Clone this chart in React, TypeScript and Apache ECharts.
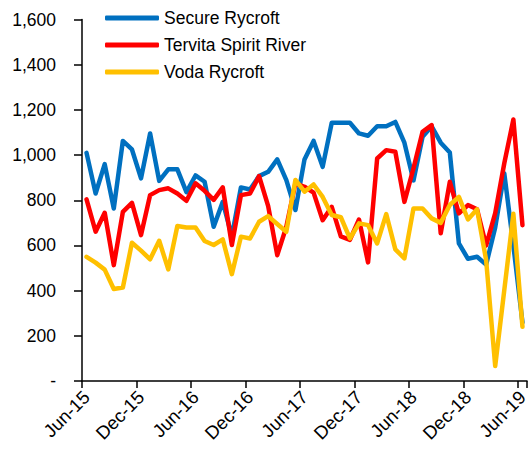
import React, { useEffect, useRef } from "react";
import * as echarts from "echarts";

const months = ["Jan", "Feb", "Mar", "Apr", "May", "Jun", "Jul", "Aug", "Sep", "Oct", "Nov", "Dec"];
const categories: string[] = [];
for (let y = 2015; y <= 2019; y++) {
  for (let m = 0; m < 12; m++) {
    if (y === 2015 && m < 5) continue;
    if (y === 2019 && m > 5) continue;
    categories.push(`${months[m]}-${String(y).slice(2)}`);
  }
}

const secureRycroft = [1010, 830, 960, 764, 1063, 1025, 897, 1096, 886, 937, 937, 836, 910, 882, 683, 793, 640, 857, 848, 907, 926, 981, 889, 757, 981, 1063, 948, 1143, 1143, 1143, 1096, 1086, 1128, 1128, 1147, 1055, 888, 1081, 1128, 1055, 1012, 609, 541, 550, 515, 680, 919, 600, 260];
const tervitaSpiritRiver = [804, 661, 745, 513, 749, 789, 646, 823, 845, 853, 830, 798, 875, 842, 802, 857, 602, 823, 830, 907, 774, 557, 683, 875, 860, 834, 712, 771, 640, 625, 715, 525, 985, 1022, 1015, 793, 941, 1103, 1133, 654, 882, 742, 779, 760, 600, 743, 964, 1158, 690];
const vodaRycroft = [550, 524, 493, 407, 414, 612, 577, 539, 621, 494, 686, 680, 680, 620, 602, 627, 473, 639, 631, 705, 730, 695, 661, 890, 838, 870, 815, 735, 725, 631, 698, 690, 609, 739, 583, 543, 764, 764, 720, 700, 779, 815, 715, 760, 535, 66, 403, 740, 240];

const seriesNames = ["Secure Rycroft", "Tervita Spirit River", "Voda Rycroft"];
const seriesColors = ["#0070C0", "#FF0000", "#FFC000"];
const seriesData = [secureRycroft, tervitaSpiritRiver, vodaRycroft];

const FONT = "'Liberation Sans', Arial, sans-serif";

export default function App() {
  const ref = useRef<HTMLDivElement>(null);
  useEffect(() => {
    if (!ref.current) return;
    const chart = echarts.init(ref.current, undefined, { renderer: "svg" });
    chart.setOption({
      animation: false,
      backgroundColor: "#ffffff",
      textStyle: { fontFamily: FONT },
      grid: { left: 82, right: 5, top: 19.6, bottom: 73, containLabel: false },
      legend: {
        orient: "vertical",
        left: 100,
        top: 4,
        itemWidth: 54,
        itemHeight: 5,
        itemGap: 9,
        icon: "roundRect",
        textStyle: { fontFamily: FONT, fontSize: 17.5, color: "#000" },
        data: seriesNames,
      },
      xAxis: {
        type: "category",
        data: categories,
        boundaryGap: true,
        axisLine: { lineStyle: { color: "#000", width: 1.5 } },
        axisTick: { show: true, interval: 5, length: 7, lineStyle: { color: "#000", width: 1.5 } },
        axisLabel: {
          interval: 5,
          rotate: 45,
          margin: 13,
          fontFamily: FONT,
          fontSize: 18.5,
          color: "#000",
        },
        splitLine: { show: false },
      },
      yAxis: {
        type: "value",
        min: 0,
        max: 1600,
        interval: 200,
        axisLine: { show: true, lineStyle: { color: "#000", width: 1.5 } },
        axisTick: { show: true, length: 8, lineStyle: { color: "#000", width: 1.5 } },
        axisLabel: {
          margin: 26,
          fontFamily: FONT,
          fontSize: 17.5,
          color: "#000",
          formatter: (v: number) => (v === 0 ? "-" : v.toLocaleString("en-US")),
        },
        splitLine: { show: false },
      },
      series: seriesNames.map((name, i) => ({
        name,
        type: "line",
        data: seriesData[i],
        showSymbol: false,
        symbol: "none",
        color: seriesColors[i],
        lineStyle: { width: 4.5, color: seriesColors[i], cap: "round", join: "round" },
      })),
    });
    return () => chart.dispose();
  }, []);
  return (
    <div
      ref={ref}
      style={{ position: "fixed", left: 0, top: 0, width: 532, height: 454 }}
    />
  );
}
